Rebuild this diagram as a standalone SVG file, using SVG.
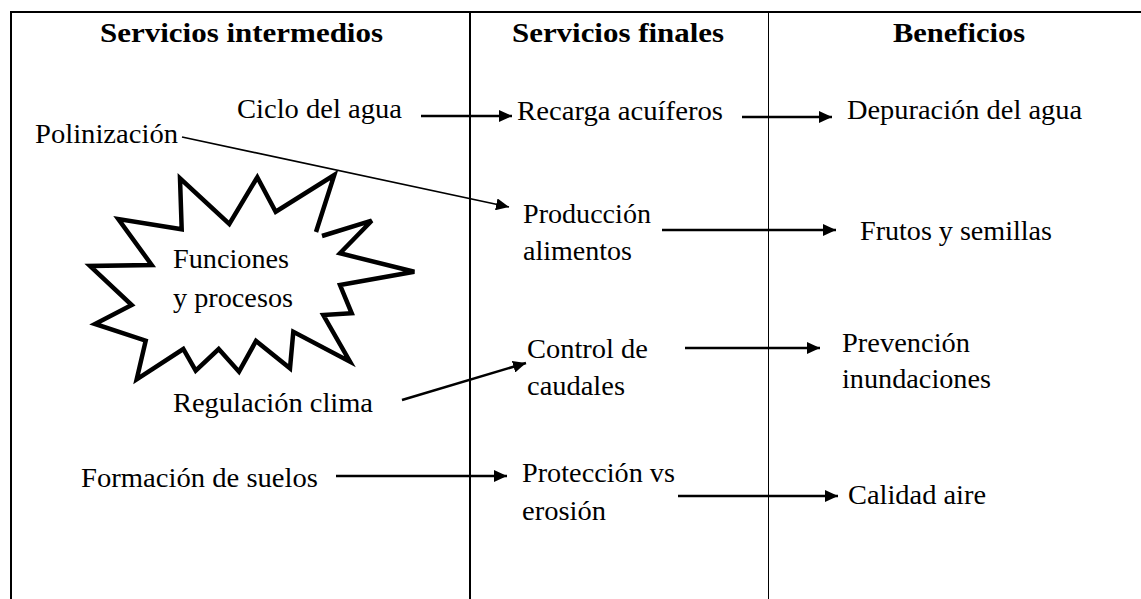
<svg xmlns="http://www.w3.org/2000/svg" width="1141" height="599" viewBox="0 0 1141 599">
<style>
  text { font-family: 'Liberation Serif', 'DejaVu Serif', serif; fill: #000; }
  .h { font-size: 28px; font-weight: bold; }
  .t { font-size: 27px; }
  .frame { stroke: #000; fill: none; }
  .arr { stroke: #000; stroke-width: 2.5; fill: none; marker-end: url(#ah); }
  .thin { stroke: #000; stroke-width: 1.6; fill: none; marker-end: url(#ah); }
</style>
<defs>
  <marker id="ah" markerUnits="userSpaceOnUse" markerWidth="13" markerHeight="12" refX="13" refY="6" orient="auto">
    <path d="M0,0 L13,6 L0,12 z" fill="#000"/>
  </marker>
</defs>
<rect width="1141" height="599" fill="#fff"/>
<g id="frame">
  <line class="frame" x1="10" y1="12" x2="1141" y2="12" stroke-width="2"/>
  <line class="frame" x1="11" y1="11" x2="11" y2="599" stroke-width="2"/>
  <line class="frame" x1="470" y1="12" x2="470" y2="599" stroke-width="2"/>
  <line class="frame" x1="768.5" y1="12" x2="768.5" y2="599" stroke-width="1"/>
</g>
<g id="headers">
  <text class="h" x="100" y="42" textLength="283" lengthAdjust="spacingAndGlyphs">Servicios intermedios</text>
  <text class="h" x="512" y="42" textLength="212" lengthAdjust="spacingAndGlyphs">Servicios finales</text>
  <text class="h" x="893" y="42" textLength="132" lengthAdjust="spacingAndGlyphs">Beneficios</text>
</g>
<g id="star">
  <path d="M322,236 L371.7,220.7 L340,253.3 L414.3,271.7 L340,285 L351.7,313.3 L323.3,315 L350,361.7 L293.3,331.7 L290,368.3 L256,341 L239,371.7 L218.7,349 L195.7,370.7 L183.3,349 L136.7,379.3 L145.7,340.7 L95,324 L131.7,305 L90,266 L151.7,265 L118.3,219 L181.7,229.3 L180,178.3 L229.3,224 L257.3,177.3 L275.7,211.7 L334.3,175 L316,232" fill="#fff" stroke="#000" stroke-width="4.5" stroke-linejoin="miter" stroke-miterlimit="4"/>
  <text class="t" x="173" y="268" textLength="116" lengthAdjust="spacingAndGlyphs">Funciones</text>
  <text class="t" x="173" y="307" textLength="120" lengthAdjust="spacingAndGlyphs">y procesos</text>
</g>
<g id="ciclo"><text class="t" x="237" y="118" textLength="165" lengthAdjust="spacingAndGlyphs">Ciclo del agua</text></g>
<g id="polinizacion"><text class="t" x="35" y="143" textLength="143" lengthAdjust="spacingAndGlyphs">Polinización</text></g>
<g id="regulacion"><text class="t" x="173" y="412" textLength="200" lengthAdjust="spacingAndGlyphs">Regulación clima</text></g>
<g id="formacion"><text class="t" x="81" y="487" textLength="237" lengthAdjust="spacingAndGlyphs">Formación de suelos</text></g>
<g id="recarga"><text class="t" x="517" y="120" textLength="206" lengthAdjust="spacingAndGlyphs">Recarga acuíferos</text></g>
<g id="produccion">
  <text class="t" x="523" y="223" textLength="128" lengthAdjust="spacingAndGlyphs">Producción</text>
  <text class="t" x="523" y="260" textLength="109" lengthAdjust="spacingAndGlyphs">alimentos</text>
</g>
<g id="control">
  <text class="t" x="527" y="358" textLength="121" lengthAdjust="spacingAndGlyphs">Control de</text>
  <text class="t" x="527" y="395" textLength="98" lengthAdjust="spacingAndGlyphs">caudales</text>
</g>
<g id="proteccion">
  <text class="t" x="522" y="482" textLength="153" lengthAdjust="spacingAndGlyphs">Protección vs</text>
  <text class="t" x="522" y="520" textLength="84" lengthAdjust="spacingAndGlyphs">erosión</text>
</g>
<g id="depuracion"><text class="t" x="847" y="119" textLength="235" lengthAdjust="spacingAndGlyphs">Depuración del agua</text></g>
<g id="frutos"><text class="t" x="860" y="240" textLength="192" lengthAdjust="spacingAndGlyphs">Frutos y semillas</text></g>
<g id="prevencion">
  <text class="t" x="842" y="352" textLength="128" lengthAdjust="spacingAndGlyphs">Prevención</text>
  <text class="t" x="842" y="388" textLength="149" lengthAdjust="spacingAndGlyphs">inundaciones</text>
</g>
<g id="calidad"><text class="t" x="848" y="504" textLength="138" lengthAdjust="spacingAndGlyphs">Calidad aire</text></g>
<g id="connectors">
  <line class="arr" x1="421" y1="116" x2="512" y2="116"/>
  <line class="thin" x1="182" y1="137" x2="509" y2="207"/>
  <line class="arr" x1="742" y1="117" x2="832" y2="117"/>
  <line class="arr" x1="662" y1="230" x2="836" y2="230"/>
  <line class="arr" x1="402" y1="400" x2="526" y2="363"/>
  <line class="arr" x1="685" y1="348" x2="820" y2="348"/>
  <line class="arr" x1="336" y1="476" x2="507" y2="476"/>
  <line class="arr" x1="678" y1="496" x2="838" y2="496"/>
</g>
</svg>
